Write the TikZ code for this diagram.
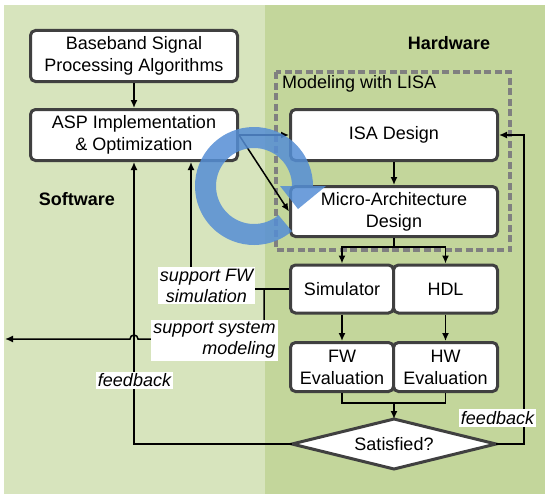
\documentclass[tikz,border=0pt]{standalone}
\usepackage{fontspec}
\setmainfont{Liberation Sans}
\usetikzlibrary{arrows.meta}
\definecolor{swgreen}{RGB}{215,228,189}
\definecolor{hwgreen}{RGB}{195,214,155}
\definecolor{boxedge}{RGB}{64,64,64}
\definecolor{lisagray}{RGB}{128,128,128}
\definecolor{loopblue}{RGB}{85,142,213}
\begin{document}
\begin{tikzpicture}[x=1pt,y=-1pt,
  blk/.style={draw=boxedge, line width=3pt, rounded corners=5pt, fill=white,
    align=center, inner sep=0pt, font=\fontsize{18}{22}\selectfont},
  conn/.style={line width=1.5pt, draw=black},
  arr/.style={conn, -{Latex[length=8pt,width=7pt]}},
  lbl/.style={fill=white, inner sep=2pt, font=\fontsize{18}{21}\selectfont\itshape},
  side/.style={font=\fontsize{18}{21}\selectfont\bfseries}]
\useasboundingbox (0,0) rectangle (545,495);
% background panels
\fill[swgreen] (4,5) rectangle (265,494);
\fill[hwgreen] (265,5) rectangle (545,494);

\node[side] (sw) at (77,199) {Software};
\node[side] (hw) at (449,43) {Hardware};

% LISA modeling frame
\draw[lisagray, line width=4pt, dash pattern=on 7pt off 3.5pt] (276,72) rectangle (510,250);
\node[anchor=west, inner sep=0pt, font=\fontsize{18}{21}\selectfont] (lisa) at (282,83.5) {Modeling with LISA};

% boxes
\node[blk, minimum width=207pt, minimum height=51pt] (base) at (134,56) {Baseband Signal\\Processing Algorithms};
\node[blk, minimum width=207pt, minimum height=51pt] (asp) at (134,135) {ASP Implementation\\\& Optimization};
\node[blk, minimum width=207pt, minimum height=51pt] (isa) at (394,135) {ISA Design};
\node[blk, minimum width=207pt, minimum height=50pt] (micro) at (394,211.5) {Micro-Architecture\\Design};
\node[blk, minimum width=103pt, minimum height=48pt] (sim) at (342,289) {Simulator};
\node[blk, minimum width=104pt, minimum height=48pt] (hdl) at (445.5,289) {HDL};
\node[blk, minimum width=103pt, minimum height=49pt] (fw) at (342,367) {FW\\Evaluation};
\node[blk, minimum width=104pt, minimum height=49pt] (hwe) at (445.5,367) {HW\\Evaluation};

% decision diamond
\coordinate (satW) at (292,444);
\coordinate (satE) at (496,444);
\coordinate (satN) at (394,419);
\coordinate (satS) at (394,469);
\draw[boxedge, line width=3pt, fill=white] (satW) -- (satN) -- (satE) -- (satS) -- cycle;
\node[font=\fontsize{18}{21}\selectfont] (sat) at (394,444) {Satisfied?};

% flow connectors
\draw[arr] (base) -- (asp);
\draw[arr] (asp.east) -- (isa.west);
\draw[arr] (asp.east) -- (micro.west);
\draw[arr] (isa) -- (micro);
\coordinate (split) at (394,247);
\draw[conn] (micro.south) -- (split);
\draw[arr] (split) -| (sim.north);
\draw[arr] (split) -| (hdl.north);
\draw[arr] (sim) -- (fw);
\draw[arr] (hdl) -- (hwe);
\coordinate (merge) at (394,403);
\draw[conn] (fw.south) |- (merge) -| (hwe.south);
\draw[arr] (merge) -- (satN);

% feedback loops
\coordinate (fbR) at (524,444);
\draw[arr] (satE) -- (fbR) |- (isa.east);
\draw[arr] (satW) -| (asp.south);

% support paths from the simulator
\draw[arr] (sim.west) -| ([xshift=57pt]asp.south);
\coordinate (tap) at (264,289);
\coordinate (sysout) at (5,339);
\draw[arr] (tap) -- (264,339) -- (138,339) arc[start angle=0, end angle=180, radius=4pt] -- (sysout);

% labels
\node[lbl, align=center] (lfw) at (206.5,285.5) {support FW\\simulation};
\node[lbl, align=right] (lsys) at (214.5,340.5) {support system\\modeling};
\node[lbl] (fbl) at (134.5,380.5) {feedback};
\node[lbl] (fbr) at (497.5,418) {feedback};

% iteration loop arrow
\fill[loopblue, opacity=0.85]
  (291.92,231.20) arc[start angle=-50, end angle=-360, radius=59pt]
  -- (326,186) -- (298,209) -- (280,186) -- (292,186)
  arc[start angle=0, end angle=310, radius=38pt] -- cycle;
\end{tikzpicture}
\end{document}
